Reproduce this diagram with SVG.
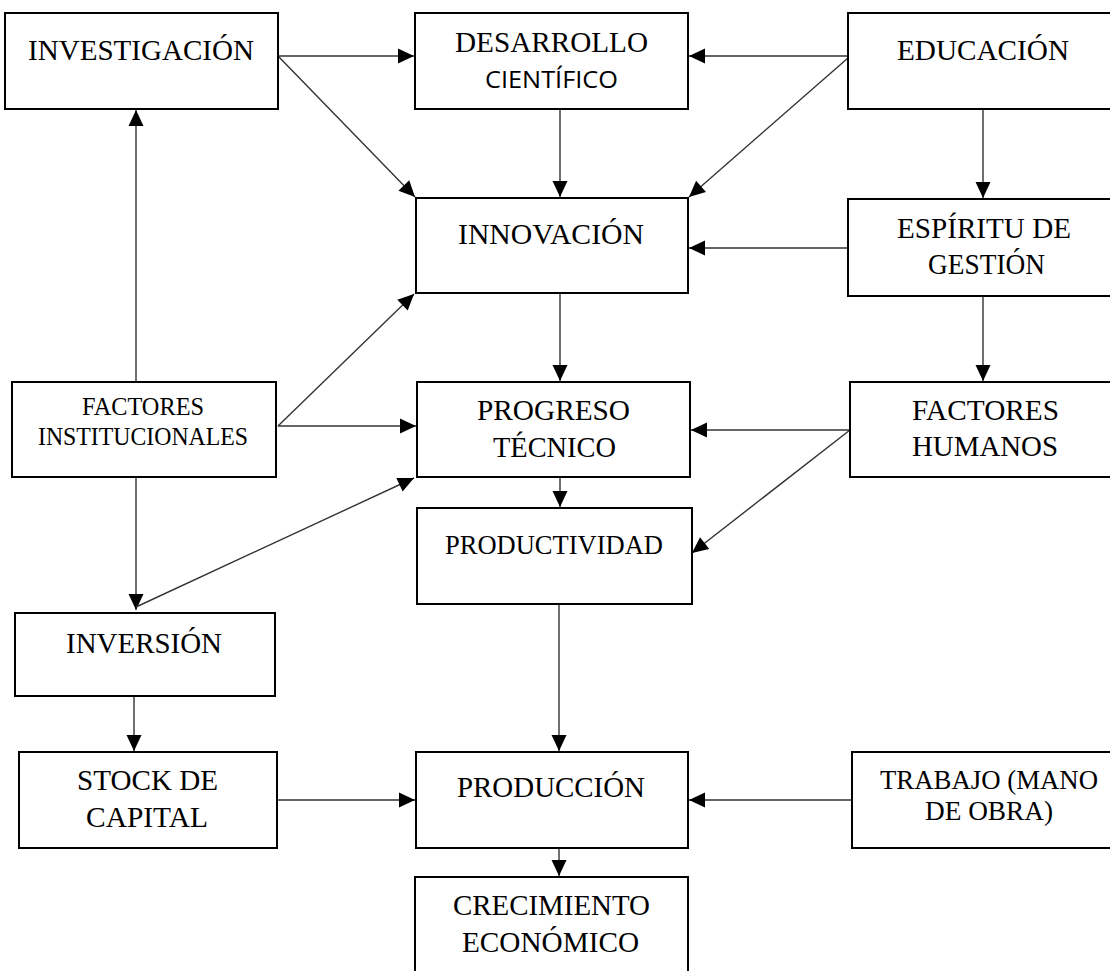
<svg xmlns="http://www.w3.org/2000/svg" width="1110" height="971" viewBox="0 0 1110 971">
<style>
.box{fill:#fff;stroke:#000;stroke-width:2}
.t{font-family:"Liberation Serif","Times New Roman",Times,serif;font-size:30px;fill:#000;text-anchor:middle}
.s{font-family:"Open Sans","Noto Sans",sans-serif;font-size:24px;fill:#000;text-anchor:middle}
.c line{stroke:#333;stroke-width:1.4;fill:none}
.a{marker-end:url(#ah)}
</style>
<defs>
<marker id="ah" markerUnits="userSpaceOnUse" markerWidth="18" markerHeight="18" refX="16" refY="8" orient="auto" overflow="visible">
<path d="M0,0.5 L16,8 L0,15.5 z" fill="#000"/>
</marker>
</defs>
<rect width="1110" height="971" fill="#fff"/>
<g class="c" id="connectors">
<line class="a" x1="278" y1="56" x2="414" y2="56"/>
<line class="a" x1="278" y1="56" x2="415" y2="197"/>
<line class="a" x1="848" y1="56" x2="689" y2="56"/>
<line class="a" x1="848" y1="58" x2="689" y2="197"/>
<line class="a" x1="560" y1="109" x2="560" y2="197"/>
<line class="a" x1="983" y1="109" x2="983" y2="198"/>
<line class="a" x1="848" y1="248" x2="689" y2="248"/>
<line class="a" x1="983" y1="296" x2="983" y2="381"/>
<line class="a" x1="560" y1="293" x2="560" y2="381"/>
<line class="a" x1="850" y1="430" x2="691" y2="430"/>
<line class="a" x1="850" y1="430" x2="692" y2="553"/>
<line class="a" x1="136" y1="382" x2="136" y2="110"/>
<line class="a" x1="278" y1="426" x2="414" y2="294"/>
<line class="a" x1="278" y1="426" x2="416" y2="426"/>
<line class="a" x1="136" y1="477" x2="136" y2="610"/>
<line class="a" x1="136" y1="607" x2="414" y2="478"/>
<line class="a" x1="560" y1="477" x2="560" y2="507"/>
<line class="a" x1="134" y1="696" x2="134" y2="751"/>
<line class="a" x1="277" y1="800" x2="415" y2="800"/>
<line class="a" x1="559" y1="604" x2="559" y2="751"/>
<line class="a" x1="852" y1="800" x2="689" y2="800"/>
<line class="a" x1="559" y1="848" x2="559" y2="876"/>
</g>
<g id="investigacion"><rect class="box" x="5" y="13" width="273" height="96"/><text class="t" x="141" y="60" textLength="226" lengthAdjust="spacingAndGlyphs">INVESTIGACIÓN</text></g>
<g id="desarrollo"><rect class="box" x="415" y="13" width="273" height="96"/><text class="t" x="551.5" y="52" textLength="193" lengthAdjust="spacingAndGlyphs">DESARROLLO</text><text class="s" x="551.5" y="88" textLength="133" lengthAdjust="spacingAndGlyphs">CIENTÍFICO</text></g>
<g id="educacion"><rect class="box" x="848" y="13" width="272" height="96"/><text class="t" x="983" y="60" textLength="172" lengthAdjust="spacingAndGlyphs">EDUCACIÓN</text></g>
<g id="innovacion"><rect class="box" x="416" y="198" width="272" height="95"/><text class="t" x="551" y="244" textLength="186" lengthAdjust="spacingAndGlyphs">INNOVACIÓN</text></g>
<g id="espiritu"><rect class="box" x="848" y="199" width="272" height="97"/><text class="t" x="984" y="238" textLength="174" lengthAdjust="spacingAndGlyphs">ESPÍRITU DE</text><text class="t" x="986.5" y="274" textLength="117" lengthAdjust="spacingAndGlyphs">GESTIÓN</text></g>
<g id="factores-institucionales"><rect class="box" x="12" y="382" width="264" height="95"/><text class="t" x="143" y="415" style="font-size:24.5px" textLength="122" lengthAdjust="spacingAndGlyphs">FACTORES</text><text class="t" x="143" y="445" style="font-size:24.5px" textLength="210" lengthAdjust="spacingAndGlyphs">INSTITUCIONALES</text></g>
<g id="progreso"><rect class="box" x="417" y="382" width="273" height="95"/><text class="t" x="553.5" y="420" textLength="153" lengthAdjust="spacingAndGlyphs">PROGRESO</text><text class="t" x="554.5" y="457" textLength="123" lengthAdjust="spacingAndGlyphs">TÉCNICO</text></g>
<g id="factores-humanos"><rect class="box" x="850" y="382" width="270" height="95"/><text class="t" x="985.5" y="420" textLength="147" lengthAdjust="spacingAndGlyphs">FACTORES</text><text class="t" x="985" y="456" textLength="146" lengthAdjust="spacingAndGlyphs">HUMANOS</text></g>
<g id="productividad"><rect class="box" x="417" y="508" width="275" height="96"/><text class="t" x="554" y="554" style="font-size:27.5px" textLength="218" lengthAdjust="spacingAndGlyphs">PRODUCTIVIDAD</text></g>
<g id="inversion"><rect class="box" x="15" y="613" width="260" height="83"/><text class="t" x="144" y="653" textLength="156" lengthAdjust="spacingAndGlyphs">INVERSIÓN</text></g>
<g id="stock"><rect class="box" x="19" y="752" width="258" height="96"/><text class="t" x="147.5" y="790" textLength="141" lengthAdjust="spacingAndGlyphs">STOCK DE</text><text class="t" x="147" y="827" textLength="122" lengthAdjust="spacingAndGlyphs">CAPITAL</text></g>
<g id="produccion"><rect class="box" x="416" y="752" width="272" height="96"/><text class="t" x="551" y="797" textLength="188" lengthAdjust="spacingAndGlyphs">PRODUCCIÓN</text></g>
<g id="trabajo"><rect class="box" x="852" y="752" width="268" height="96"/><text class="t" x="989" y="789" style="font-size:27px" textLength="218" lengthAdjust="spacingAndGlyphs">TRABAJO (MANO</text><text class="t" x="989" y="820" style="font-size:27px" textLength="128" lengthAdjust="spacingAndGlyphs">DE OBRA)</text></g>
<g id="crecimiento"><rect class="box" x="415" y="877" width="273" height="110"/><text class="t" x="551.5" y="915" textLength="197" lengthAdjust="spacingAndGlyphs">CRECIMIENTO</text><text class="t" x="550.5" y="952" textLength="177" lengthAdjust="spacingAndGlyphs">ECONÓMICO</text></g>
</svg>
